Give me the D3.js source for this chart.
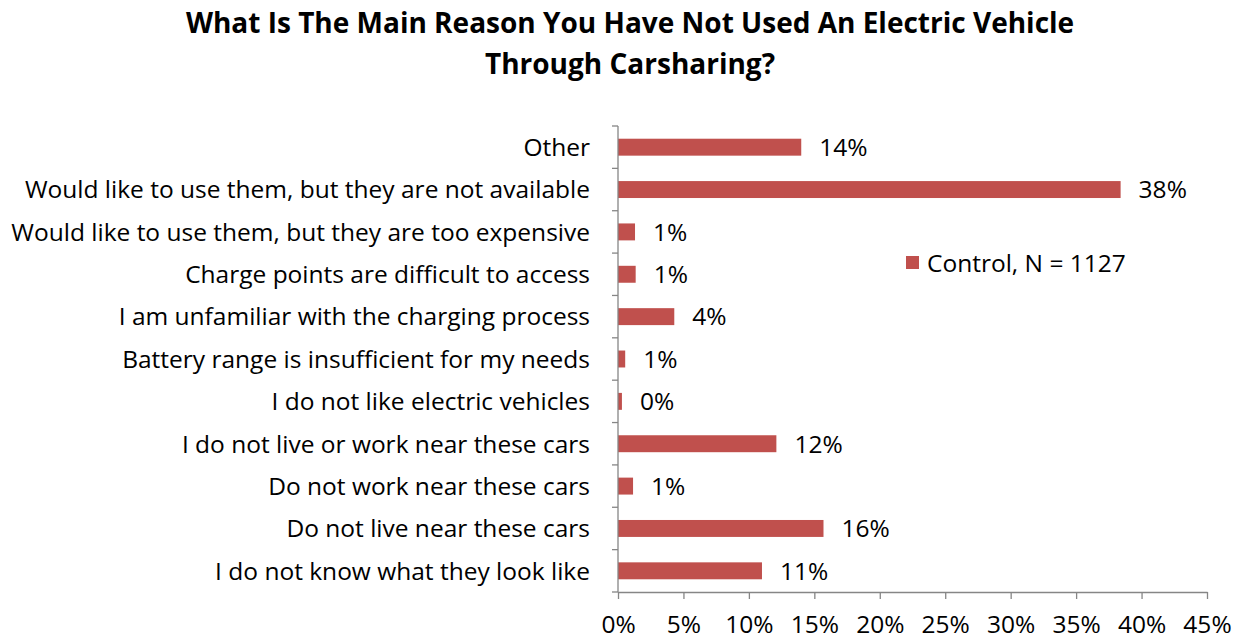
<!DOCTYPE html>
<html>
<head>
<meta charset="utf-8">
<script src="https://cdn.jsdelivr.net/npm/d3@7"></script>
<style>
  html, body { margin: 0; padding: 0; background: #fff; }
  svg { display: block; }
</style>
</head>
<body>
<svg id="chart" width="1241" height="641"></svg>
<script>
const categories = [
  "Other",
  "Would like to use them, but they are not available",
  "Would like to use them, but they are too expensive",
  "Charge points are difficult to access",
  "I am unfamiliar with the charging process",
  "Battery range is insufficient for my needs",
  "I do not like electric vehicles",
  "I do not live or work near these cars",
  "Do not work near these cars",
  "Do not live near these cars",
  "I do not know what they look like"
];
const values = [14.0, 38.4, 1.3, 1.35, 4.3, 0.55, 0.3, 12.1, 1.15, 15.7, 11.0];
const xTicks = [0, 5, 10, 15, 20, 25, 30, 35, 40, 45];
const titleLines = ["What Is The Main Reason You Have Not Used An Electric Vehicle", "Through Carsharing?"];
const seriesName = "Control, N = 1127";

const color = "#C0504D";
const axisColor = "#868686";
const font = "'Open Sans', Lato, sans-serif";
const fs = "24.5px";

const svg = d3.select("#chart");
const margin = { left: 618, right: 34, top: 126, bottom: 49 };
const W = 1241, H = 641;

const x = d3.scaleLinear().domain([0, 45]).range([margin.left, W - margin.right]);
const y = d3.scaleBand().domain(categories).range([margin.top, H - margin.bottom]).paddingInner(0.6).paddingOuter(0.3);

// Title
svg.append("text")
  .attr("x", 630).attr("y", 33)
  .attr("text-anchor", "middle")
  .style("font-family", font).style("font-weight", "bold").style("font-size", "28px")
  .text(titleLines[0]);
svg.append("text")
  .attr("x", 630).attr("y", 74)
  .attr("text-anchor", "middle")
  .style("font-family", font).style("font-weight", "bold").style("font-size", "28px")
  .text(titleLines[1]);

// Bars
svg.append("g").selectAll("rect").data(values).join("rect")
  .attr("x", x(0))
  .attr("y", (d, i) => y(categories[i]))
  .attr("width", d => x(d) - x(0))
  .attr("height", y.bandwidth())
  .attr("fill", color);

// Data labels
svg.append("g").selectAll("text").data(values).join("text")
  .attr("x", d => x(d) + 18)
  .attr("y", (d, i) => y(categories[i]) + y.bandwidth() / 2)
  .attr("dy", "0.36em")
  .style("font-family", font).style("font-size", fs).style("fill", "#000")
  .text(d => Math.round(d) + "%");

// Y axis
const yAxisG = svg.append("g");
yAxisG.append("line")
  .attr("x1", x(0)).attr("x2", x(0))
  .attr("y1", margin.top).attr("y2", H - margin.bottom)
  .attr("stroke", axisColor).attr("stroke-width", 1.3);
const yTickPos = d3.range(categories.length + 1).map(i => margin.top + i * (H - margin.bottom - margin.top) / categories.length);
yAxisG.selectAll("line.t").data(yTickPos).join("line").attr("class", "t")
  .attr("x1", x(0) - 6).attr("x2", x(0))
  .attr("y1", d => d).attr("y2", d => d)
  .attr("stroke", axisColor).attr("stroke-width", 1.3);
yAxisG.selectAll("text").data(categories).join("text")
  .attr("x", x(0) - 28)
  .attr("y", d => y(d) + y.bandwidth() / 2)
  .attr("dy", "0.36em")
  .attr("text-anchor", "end")
  .style("font-family", font).style("font-size", fs).style("fill", "#000")
  .text(d => d);

// X axis
const xAxis = d3.axisBottom(x).tickValues(xTicks).tickFormat(d => d + "%").tickSize(7).tickSizeOuter(0).tickPadding(25);
const xg = svg.append("g").attr("transform", `translate(0,${H - margin.bottom})`).call(xAxis);
xg.select(".domain").attr("stroke", axisColor).attr("stroke-width", 1.3);
xg.selectAll(".tick line").attr("stroke", axisColor).attr("stroke-width", 1.3);
xg.selectAll(".tick text").style("font-family", font).style("font-size", fs).style("fill", "#000").attr("dy", "0.36em");

// Legend
const lg = svg.append("g").attr("transform", "translate(906,256)");
lg.append("rect").attr("x", 0).attr("y", 0).attr("width", 13).attr("height", 13).attr("fill", color);
lg.append("text").attr("x", 21).attr("y", 7).attr("dy", "0.36em")
  .style("font-family", font).style("font-size", fs).style("fill", "#000")
  .text(seriesName);
</script>
</body>
</html>
